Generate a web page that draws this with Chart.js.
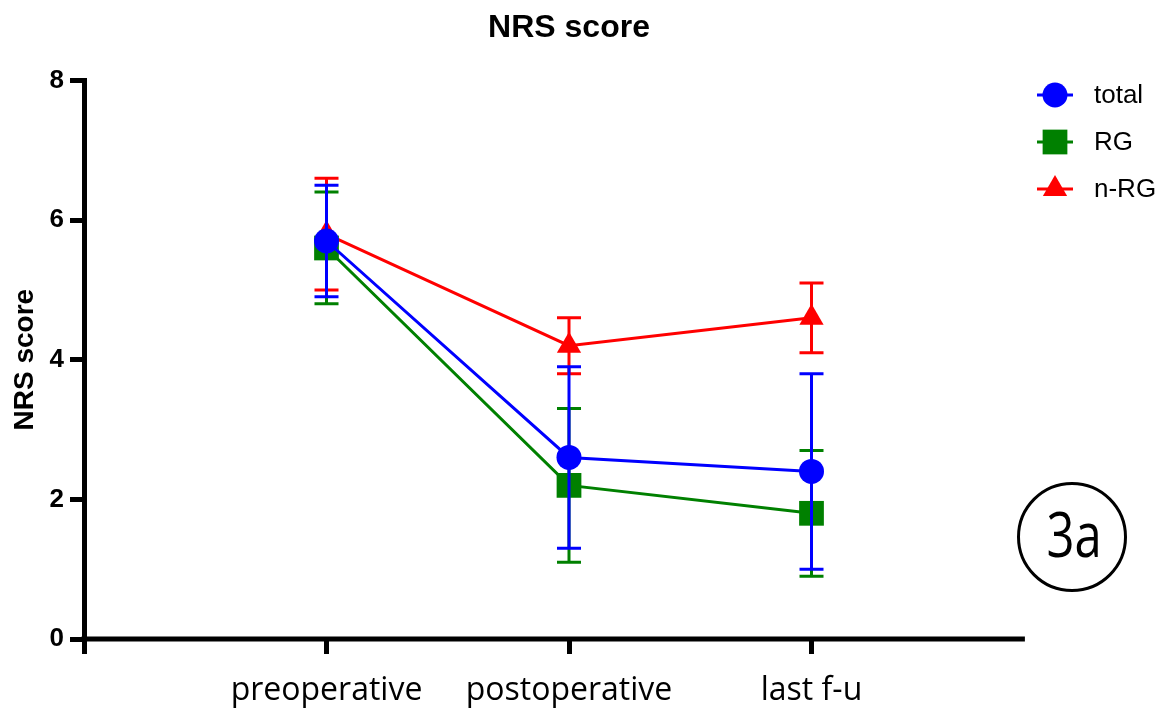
<!DOCTYPE html>
<html>
<head>
<meta charset="utf-8">
<title>NRS score</title>
<script src="https://cdn.jsdelivr.net/npm/chart.js@4.4.1/dist/chart.umd.min.js"></script>
<style>
  html, body { margin: 0; padding: 0; background: #fff; }
  #wrap { width: 1165px; height: 713px; }
</style>
</head>
<body>
<div id="wrap"><canvas id="nrsChart" width="1165" height="713"></canvas></div>
<script>
// ========================================
// DATA
// ========================================
const timepoints = ['preoperative', 'postoperative', 'last f-u'];
const seriesNames = ['total', 'RG', 'n-RG'];

const totalMean = [5.7, 2.6, 2.4];
const totalSd   = [0.8, 1.3, 1.4];
const rgMean    = [5.6, 2.2, 1.8];
const rgSd      = [0.8, 1.1, 0.9];
const nrgMean   = [5.8, 4.2, 4.6];
const nrgSd     = [0.8, 0.4, 0.5];

const yTicks = [0, 2, 4, 6, 8];

// ========================================
// STYLE
// ========================================
const FONT = "'Liberation Sans', Arial, sans-serif";
const LABEL_FONT = "'Open Sans', sans-serif";
const X_AXIS_END = 2.88;   // where the drawn x axis line stops (in category units)

const styles = [
  { color: '#0000ff', pointStyle: 'circle',   radius: 12.5 },
  { color: '#008000', pointStyle: 'rect',     radius: 17.5 },
  { color: '#ff0000', pointStyle: 'triangle', radius: 14 }
];

const toPoints = (arr) => arr.map((v, i) => ({ x: i, y: v }));

function makeDataset(label, mean, sd, st) {
  return {
    label: label,
    data: toPoints(mean),
    sd: sd,
    borderColor: st.color,
    backgroundColor: st.color,
    borderWidth: 3,
    tension: 0,
    pointStyle: st.pointStyle,
    pointRadius: st.radius,
    pointHoverRadius: st.radius,
    pointBackgroundColor: st.color,
    pointBorderColor: st.color,
    pointBorderWidth: 0,
    clip: false
  };
}

// ========================================
// PLUGINS
// ========================================
function drawMarker(ctx, style, x, y, r) {
  ctx.beginPath();
  if (style === 'circle') {
    ctx.arc(x, y, r, 0, Math.PI * 2);
  } else if (style === 'rect') {
    const s = r * Math.SQRT1_2;
    ctx.rect(x - s, y - s, 2 * s, 2 * s);
  } else if (style === 'triangle') {
    let a = 0;
    ctx.moveTo(x + Math.sin(a) * r, y - Math.cos(a) * r);
    a += Math.PI * 2 / 3;
    ctx.lineTo(x + Math.sin(a) * r, y - Math.cos(a) * r);
    a += Math.PI * 2 / 3;
    ctx.lineTo(x + Math.sin(a) * r, y - Math.cos(a) * r);
    ctx.closePath();
  }
  ctx.fill();
}

const errorBarPlugin = {
  id: 'errorBars',
  beforeDatasetDraw(chart, args) {
    const ds = chart.data.datasets[args.index];
    const yScale = chart.scales.y;
    const ctx = chart.ctx;
    ctx.save();
    ctx.strokeStyle = ds.borderColor;
    ctx.lineWidth = 3;
    args.meta.data.forEach((pt, i) => {
      const v = ds.data[i].y;
      const top = yScale.getPixelForValue(v + ds.sd[i]);
      const bot = yScale.getPixelForValue(v - ds.sd[i]);
      ctx.beginPath();
      ctx.moveTo(pt.x, top); ctx.lineTo(pt.x, bot);
      ctx.moveTo(pt.x - 12, top); ctx.lineTo(pt.x + 12, top);
      ctx.moveTo(pt.x - 12, bot); ctx.lineTo(pt.x + 12, bot);
      ctx.stroke();
    });
    ctx.restore();
  }
};

const decorPlugin = {
  id: 'decor',
  afterDraw(chart) {
    const ctx = chart.ctx;
    const xs = chart.scales.x;
    const area = chart.chartArea;

    // x axis line (stops short of the right edge)
    ctx.save();
    ctx.strokeStyle = '#000';
    ctx.lineWidth = 5;
    ctx.beginPath();
    ctx.moveTo(area.left - 2.5, area.bottom);
    ctx.lineTo(xs.getPixelForValue(X_AXIS_END), area.bottom);
    ctx.stroke();
    ctx.restore();

    // legend: line + marker + label
    chart.data.datasets.forEach((ds, i) => {
      const y = 95 + i * 47;
      ctx.save();
      ctx.strokeStyle = ds.borderColor;
      ctx.fillStyle = ds.borderColor;
      ctx.lineWidth = 3;
      ctx.beginPath();
      ctx.moveTo(1037, y); ctx.lineTo(1073, y);
      ctx.stroke();
      drawMarker(ctx, ds.pointStyle, 1055, y, ds.pointRadius);
      ctx.fillStyle = '#000';
      ctx.font = '26px ' + FONT;
      ctx.textAlign = 'left';
      ctx.textBaseline = 'middle';
      ctx.fillText(ds.label, 1094, y + 1);
      ctx.restore();
    });

    // circled panel tag
    ctx.save();
    ctx.strokeStyle = '#000';
    ctx.lineWidth = 3;
    ctx.beginPath();
    ctx.arc(1072, 537, 53.5, 0, Math.PI * 2);
    ctx.stroke();
    ctx.translate(1074, 535);
    ctx.scale(0.79, 1);
    ctx.fillStyle = '#000';
    ctx.font = '62px ' + LABEL_FONT;
    ctx.textAlign = 'center';
    ctx.textBaseline = 'alphabetic';
    ctx.fillText('3a', 0, 22);
    ctx.restore();
  }
};

// ========================================
// CHART
// ========================================
const ctx = document.getElementById('nrsChart');

new Chart(ctx, {
  type: 'line',
  data: {
    datasets: [
      makeDataset(seriesNames[0], totalMean, totalSd, styles[0]),
      makeDataset(seriesNames[1], rgMean, rgSd, styles[1]),
      makeDataset(seriesNames[2], nrgMean, nrgSd, styles[2])
    ]
  },
  options: {
    responsive: false,
    animation: false,
    layout: { padding: { top: 0, right: 111, bottom: 0, left: 0 } },
    plugins: {
      legend: { display: false },
      tooltip: { enabled: false },
      title: {
        display: true,
        text: 'NRS score',
        color: '#000',
        fullSize: false,
        font: { family: FONT, size: 32, weight: 'bold' },
        padding: { top: 9, bottom: 33 }
      }
    },
    scales: {
      x: {
        type: 'linear',
        min: -1,
        max: 3,
        afterBuildTicks: (scale) => {
          scale.ticks = [-1, 0, 1, 2].map(v => ({ value: v }));
        },
        afterFit: (scale) => { scale.height = 74; },
        border: { display: false },
        grid: {
          drawOnChartArea: false,
          drawTicks: true,
          tickLength: 15,
          tickWidth: 5,
          tickColor: '#000',
          color: '#000'
        },
        ticks: {
          autoSkip: false,
          maxRotation: 0,
          padding: 18,
          color: '#000',
          font: { family: LABEL_FONT, size: 32 },
          callback: (v) => timepoints[v] || ''
        }
      },
      y: {
        type: 'linear',
        min: 0,
        max: 8,
        afterBuildTicks: (scale) => {
          scale.ticks = yTicks.map(v => ({ value: v }));
        },
        afterFit: (scale) => { scale.width = 84; },
        border: { display: true, width: 5, color: '#000' },
        grid: {
          drawOnChartArea: false,
          drawTicks: true,
          tickLength: 14,
          tickWidth: 5,
          tickColor: '#000',
          color: '#000'
        },
        ticks: {
          padding: 6,
          color: '#000',
          font: { family: FONT, size: 26, weight: 'bold' }
        },
        title: {
          display: true,
          text: 'NRS score',
          color: '#000',
          font: { family: FONT, size: 28, weight: 'bold' },
          padding: { top: 8, bottom: 0 }
        }
      }
    }
  },
  plugins: [errorBarPlugin, decorPlugin]
});
</script>
</body>
</html>
